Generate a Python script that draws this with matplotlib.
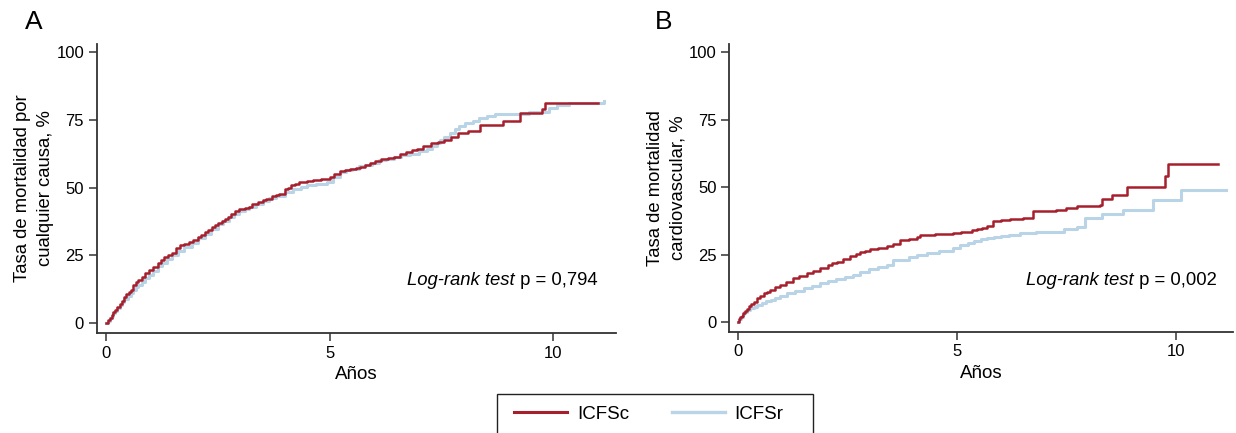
import matplotlib
matplotlib.use("Agg")
import matplotlib.pyplot as plt
from matplotlib.lines import Line2D
from matplotlib.patches import Rectangle

plt.rcParams['font.family'] = ['Liberation Sans', 'DejaVu Sans']

# ---- data (years, cumulative mortality %) ----
a_red_t = [0, 0.04, 0.08, 0.12, 0.16, 0.2, 0.25, 0.3, 0.35, 0.4, 0.44, 0.5, 0.55, 0.6, 0.66, 0.72, 0.8, 0.87, 0.95, 1.05, 1.15, 1.22, 1.3, 1.38, 1.46, 1.55, 1.66, 1.75, 1.85, 1.95, 2.06, 2.13, 2.2, 2.28, 2.36, 2.43, 2.5, 2.58, 2.66, 2.73, 2.8, 2.88, 2.97, 3.1, 3.2, 3.27, 3.4, 3.5, 3.57, 3.7, 3.8, 3.87, 4.0, 4.07, 4.14, 4.23, 4.32, 4.5, 4.63, 4.8, 5.0, 5.1, 5.23, 5.35, 5.45, 5.58, 5.68, 5.8, 5.9, 6.02, 6.14, 6.3, 6.44, 6.58, 6.7, 6.85, 6.96, 7.1, 7.27, 7.42, 7.57, 7.72, 7.87, 8.1, 8.36, 8.89, 9.27, 9.76, 9.83, 11.0]
a_red_y = [0, 1.0, 2.0, 3.0, 3.9, 4.8, 5.9, 7.0, 8.2, 9.5, 10.8, 11.5, 12.3, 14.0, 15.0, 16.0, 17.0, 18.3, 19.5, 20.8, 22.3, 23.2, 24.2, 25.0, 26.0, 27.5, 28.7, 29.3, 30.0, 30.8, 31.6, 32.6, 33.5, 34.4, 35.3, 36.0, 36.8, 37.6, 38.4, 39.3, 40.2, 41.2, 42.1, 42.6, 43.0, 44.0, 44.8, 45.3, 45.8, 46.7, 47.2, 47.7, 49.3, 50.0, 50.8, 51.4, 52.0, 52.3, 52.7, 53.2, 53.9, 55.0, 56.0, 56.4, 56.8, 57.2, 57.6, 58.3, 59.0, 59.9, 60.7, 61.0, 61.3, 62.3, 63.2, 63.8, 64.4, 65.3, 66.3, 66.9, 67.5, 68.8, 70.0, 71.0, 73.1, 74.7, 77.4, 78.9, 81.2, 81.2]

a_blue_t = [0, 0.04, 0.08, 0.12, 0.16, 0.2, 0.25, 0.3, 0.35, 0.4, 0.48, 0.55, 0.6, 0.66, 0.72, 0.8, 0.87, 0.95, 1.05, 1.15, 1.25, 1.35, 1.48, 1.6, 1.75, 1.91, 2.05, 2.2, 2.35, 2.5, 2.62, 2.75, 2.86, 2.97, 3.1, 3.2, 3.35, 3.5, 3.65, 3.8, 4.0, 4.17, 4.35, 4.5, 4.7, 4.93, 5.08, 5.23, 5.37, 5.5, 5.65, 5.8, 5.95, 6.1, 6.27, 6.44, 6.6, 6.8, 7.0, 7.19, 7.3, 7.4, 7.48, 7.57, 7.7, 7.8, 7.9, 8.02, 8.2, 8.35, 8.52, 8.7, 9.46, 9.9, 10.1, 10.36, 11.15]
a_blue_y = [0, 0.8, 1.7, 2.6, 3.5, 4.3, 5.4, 6.5, 7.6, 8.7, 9.9, 11.2, 12.3, 13.3, 14.2, 15.3, 16.5, 17.6, 19.3, 21.0, 22.2, 23.5, 25.0, 26.5, 28.0, 29.7, 31.3, 33.0, 34.8, 36.5, 37.7, 39.0, 40.3, 41.5, 42.2, 43.0, 44.0, 45.0, 46.0, 47.0, 48.3, 49.6, 50.2, 50.8, 51.4, 52.0, 53.9, 55.8, 56.4, 57.0, 57.8, 58.5, 59.2, 60.0, 60.7, 61.3, 61.9, 62.5, 63.4, 64.4, 65.5, 66.5, 67.6, 68.8, 70.2, 71.5, 72.6, 73.7, 74.6, 75.5, 76.3, 77.0, 78.0, 79.3, 80.5, 81.2, 82.0]

b_red_t = [0, 0.03, 0.06, 0.09, 0.13, 0.17, 0.21, 0.25, 0.3, 0.36, 0.43, 0.5, 0.6, 0.67, 0.74, 0.85, 0.96, 1.1, 1.27, 1.4, 1.57, 1.72, 1.88, 2.05, 2.15, 2.26, 2.4, 2.56, 2.7, 2.8, 2.9, 3.02, 3.2, 3.40, 3.55, 3.70, 3.9, 4.08, 4.16, 4.5, 4.92, 5.1, 5.22, 5.35, 5.45, 5.58, 5.68, 5.83, 6.0, 6.21, 6.51, 6.74, 7.0, 7.27, 7.5, 7.73, 8.26, 8.30, 8.53, 8.88, 9.74, 9.82, 10.96]
b_red_y = [0, 1.0, 1.7, 2.4, 3.3, 4.2, 5.0, 5.8, 6.5, 7.3, 8.8, 9.7, 10.6, 11.3, 11.9, 12.8, 13.7, 15.0, 16.2, 17.2, 18.3, 19.0, 19.9, 21.0, 21.7, 22.4, 23.5, 24.5, 25.2, 25.8, 26.4, 27.0, 27.6, 28.2, 29.0, 30.2, 30.7, 31.4, 32.3, 32.5, 32.9, 33.2, 33.5, 34.0, 34.5, 35.0, 35.6, 37.3, 37.7, 38.2, 38.5, 41.0, 41.2, 41.6, 42.3, 43.1, 43.4, 45.5, 46.9, 50.0, 54.0, 58.4, 58.4]

b_blue_t = [0, 0.03, 0.07, 0.11, 0.15, 0.2, 0.28, 0.36, 0.45, 0.55, 0.65, 0.75, 0.85, 0.97, 1.12, 1.3, 1.5, 1.7, 1.88, 2.05, 2.25, 2.45, 2.64, 2.8, 3.0, 3.2, 3.40, 3.55, 3.9, 4.1, 4.31, 4.6, 4.92, 5.07, 5.25, 5.4, 5.55, 5.68, 5.85, 6.0, 6.2, 6.44, 6.8, 7.2, 7.45, 7.73, 7.92, 8.30, 8.79, 9.48, 10.12, 11.15]
b_blue_y = [0, 1.0, 2.0, 2.9, 3.7, 4.5, 5.2, 5.7, 6.4, 7.0, 7.7, 8.3, 9.0, 9.8, 10.6, 11.5, 12.5, 13.5, 14.4, 15.2, 16.0, 16.8, 17.5, 18.5, 19.5, 20.4, 21.2, 23.0, 24.0, 24.8, 25.5, 26.3, 27.4, 28.6, 29.2, 30.0, 30.6, 31.1, 31.6, 32.0, 32.4, 32.9, 33.2, 33.5, 34.3, 35.1, 38.5, 40.1, 41.6, 45.3, 49.0, 49.0]

yticks = [0, 25, 50, 75, 100]
xticks = [0, 5, 10]
series_labels = ['ICFSc', 'ICFSr']
panel_titles = ['A', 'B']
ylabels = ['Tasa de mortalidad por\ncualquier causa, %', 'Tasa de mortalidad\ncardiovascular, %']
pvals = ['0,794', '0,002']
xlabel = 'Años'

RED = '#A61F2C'
BLUE = '#B8D4E6'

fig = plt.figure(figsize=(12.36, 4.33), dpi=100)
W, H = 1236, 433
axA = fig.add_axes([96.5 / W, (H - 333) / H, (616 - 96.5) / W, (333 - 44) / H])
axB = fig.add_axes([729 / W, (H - 332) / H, (1233 - 729) / W, (332 - 44) / H])

panels = [
    (axA, a_red_t, a_red_y, a_blue_t, a_blue_y, (-0.22, 11.41), 11.0),
    (axB, b_red_t, b_red_y, b_blue_t, b_blue_y, (-0.2, 11.3), 10.92),
]
title_x = [25, 655]

renderer = fig.canvas.get_renderer()
for i, (ax, rt, ry, bt, by, xl, tx) in enumerate(panels):
    ax.step(bt, by, where='post', color=BLUE, lw=2.2, zorder=2)
    ax.step(rt, ry, where='post', color=RED, lw=1.8, zorder=3)
    ax.set_xlim(*xl)
    ax.set_ylim(-3.7, 103)
    ax.set_xticks(xticks)
    ax.set_yticks(yticks)
    for s in ['top', 'right']:
        ax.spines[s].set_visible(False)
    for s in ['left', 'bottom']:
        ax.spines[s].set_color('#333333')
        ax.spines[s].set_linewidth(1.3)
    ax.tick_params(axis='both', direction='out', length=6, width=1.1,
                   color='#333333', labelsize=12, pad=3)
    ax.set_xlabel(xlabel, fontsize=13.5, labelpad=4)
    ax.set_ylabel(ylabels[i], fontsize=13.3, labelpad=1.5, linespacing=1.45)
    # log-rank annotation: italic part + normal part
    tn = ax.text(tx, 15.5, ' p = ' + pvals[i], ha='right', va='center', fontsize=13.3)
    bb = tn.get_window_extent(renderer)
    ycen = (bb.y0 + bb.y1) / 2
    fig.text(bb.x0 / W, ycen / H, 'Log-rank test', ha='right', va='center',
             fontsize=13.3, style='italic')
    fig.text(title_x[i] / W, 1 - 29 / H, panel_titles[i], fontsize=19,
             ha='left', va='baseline')

handles = [Line2D([], [], color=RED, lw=2.2), Line2D([], [], color=BLUE, lw=2.4)]
leg = fig.legend(handles, series_labels, loc='center', ncol=2,
                 bbox_to_anchor=(649 / W, (H - 414) / H), fontsize=13.5, frameon=False,
                 handlelength=2.8, columnspacing=2.3, handletextpad=0.53,
                 borderpad=0.0, borderaxespad=0.0)
fig.patches.append(Rectangle((496.5 / W, -0.01), (812.5 - 496.5) / W, (H - 394) / H + 0.01,
                             transform=fig.transFigure, fill=False,
                             edgecolor='#222222', linewidth=1.0))

fig.savefig('out.png', dpi=100)
